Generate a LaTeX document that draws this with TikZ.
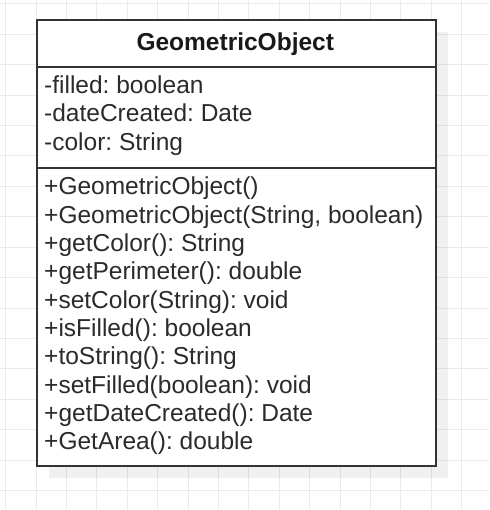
\documentclass[tikz,border=0pt]{standalone}
\usepackage{fontspec}
\setmainfont{Liberation Sans}
\frenchspacing
\definecolor{gridcol}{HTML}{EBEBEB}
\definecolor{boxcol}{HTML}{333333}
\definecolor{txtcol}{HTML}{2B2B2B}
\begin{document}
\begin{tikzpicture}[x=1pt,y=-1pt,
  gridline/.style={draw=gridcol,line width=1pt},
  classpart/.style={draw=boxcol,line width=2pt,fill=white,rectangle,inner sep=0pt,anchor=north west,minimum width=399.5pt},
  member/.style={anchor=base west,inner sep=0pt,text=txtcol,font=\fontsize{24.5}{28.33}\selectfont\frenchspacing},
  titletext/.style={anchor=base,inner sep=0pt,text=black!90,font=\fontsize{24.5}{28.33}\selectfont\bfseries}]
\useasboundingbox (0,0) rectangle (489,510);
\fill[white] (0,0) rectangle (489,510);
\foreach \i in {0,...,15} {\draw[gridline] (5.7+30.4*\i,0) -- (5.7+30.4*\i,510);}
\foreach \j in {0,...,16} {\draw[gridline] (0,4+30.4*\j) -- (489,4+30.4*\j);}
\fill[black,opacity=0.06] (48.5,32) rectangle (448,478);
\node[classpart,minimum height=47pt] (head) at (35.5,19) {};
\node[classpart,minimum height=101pt] (attrs) at (35.5,66) {};
\node[classpart,minimum height=298pt] (meths) at (35.5,167) {};
\node[titletext] (title) at (235.25,51) {GeometricObject};
\foreach \t [count=\k] in {{-filled: boolean},{-dateCreated: Date},{-color: String}}
  {\node[member] (a\k) at (44,93.5+28.33*\k-28.33) {\t};}
\foreach \t [count=\k] in {{+GeometricObject()},{+GeometricObject(String, boolean)},{+getColor(): String},{+getPerimeter(): double},{+setColor(String): void},{+isFilled(): boolean},{+toString(): String},{+setFilled(boolean): void},{+getDateCreated(): Date},{+GetArea(): double}}
  {\node[member] (m\k) at (44,195+28.33*\k-28.33) {\t};}
\end{tikzpicture}
\end{document}
